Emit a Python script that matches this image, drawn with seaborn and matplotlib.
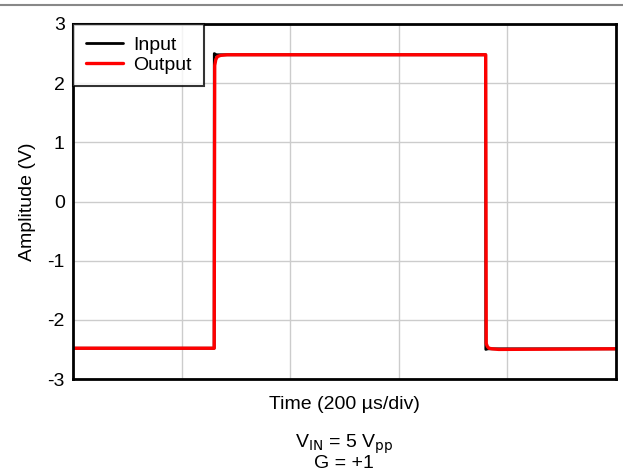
import matplotlib
matplotlib.use("Agg")
import matplotlib.pyplot as plt
from matplotlib.lines import Line2D
import seaborn as sns
import pandas as pd

# Time in divisions (200 us/div)
input_t = [0.0, 1.30, 1.301, 1.32, 3.80, 3.801, 3.82, 5.0]
input_v = [-2.48, -2.48, 2.50, 2.48, 2.48, -2.50, -2.49, -2.49]
output_t = [0.0, 1.30, 1.305, 1.315, 1.33, 1.36, 1.42, 3.80, 3.805, 3.815, 3.83, 3.86, 3.92, 5.0]
output_v = [-2.48, -2.48, 2.30, 2.40, 2.45, 2.47, 2.48, 2.48, -2.40, -2.45, -2.48, -2.49, -2.50, -2.49]
y_ticks = [-3, -2, -1, 0, 1, 2, 3]

sns.set_theme(style="white")
plt.rcParams['font.family'] = ['Liberation Sans', 'DejaVu Sans']
plt.rcParams['text.color'] = 'black'
plt.rcParams['axes.labelcolor'] = 'black'
plt.rcParams['xtick.color'] = 'black'
plt.rcParams['ytick.color'] = 'black'

FS = 14

df_in = pd.DataFrame({"t": input_t, "v": input_v})
df_out = pd.DataFrame({"t": output_t, "v": output_v})

fig = plt.figure(figsize=(6.23, 4.75), dpi=100)
ax = fig.add_axes([73/623, 1 - 379/475, (616-73)/623, (379-24)/475])

sns.lineplot(data=df_in, x="t", y="v", ax=ax, color="black", lw=2.0, label="Input", sort=False, estimator=None)
sns.lineplot(data=df_out, x="t", y="v", ax=ax, color="red", lw=2.4, label="Output", sort=False, estimator=None)

ax.set_xlim(0, 5)
ax.set_ylim(-3, 3)
ax.set_xticks([1, 2, 3, 4])
ax.set_xticklabels([])
ax.set_yticks(y_ticks)
ax.set_yticklabels([str(v) for v in y_ticks], fontsize=FS)
ax.tick_params(axis='both', length=0, pad=6)
ax.grid(True, color="#cccccc", lw=1)
for s in ax.spines.values():
    s.set_color("black")
    s.set_linewidth(2)
ax.set_xlabel("Time (200 µs/div)", fontsize=FS, labelpad=6)
ax.set_ylabel("Amplitude (V)", fontsize=FS, labelpad=8)

leg = ax.legend(loc="upper left", fontsize=FS, frameon=True, fancybox=False,
                borderaxespad=0.0, handlelength=1.9, borderpad=0.65, labelspacing=0.1,
                handletextpad=0.55)
leg.get_frame().set_edgecolor("black")
leg.get_frame().set_linewidth(1.5)

fig.text(344/623, 1 - 452/475,
         "V$_{\\mathrm{IN}}$ = 5 V$_{\\mathrm{pp}}$\nG = +1",
         ha="center", va="center", multialignment="center", fontsize=FS, linespacing=0.95)

fig.add_artist(Line2D([0, 1], [1 - 5/475, 1 - 5/475], color="#888888", lw=1.5, transform=fig.transFigure))

fig.savefig("out.png", dpi=100)
